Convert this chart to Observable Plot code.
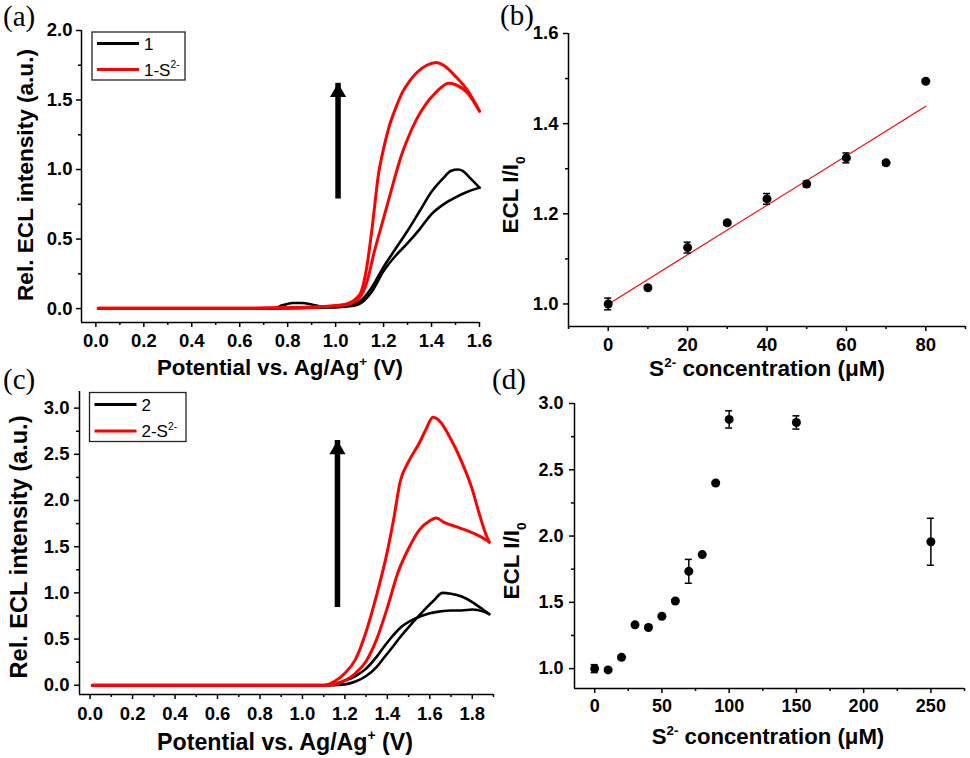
<!DOCTYPE html>
<html><head><meta charset="utf-8">
<script src="https://cdn.jsdelivr.net/npm/d3@7"></script>
<script src="https://cdn.jsdelivr.net/npm/@observablehq/plot@0.6"></script>
<style>
body{margin:0;background:#fff;}
#root{position:relative;width:970px;height:758px;overflow:hidden;background:#fff;}
.panel{position:absolute;}
.panel svg{max-width:none !important;display:block;}
#overlay{position:absolute;left:0;top:0;pointer-events:none;}
</style></head><body><div id="root"></div>
<script>
// ---------- Panel (a): ECL vs potential, compound 1 ----------
const aBlackPeak = [[0.01,0],[0.74,0],[0.78,0.025],[0.82,0.04],[0.86,0.04],[0.9,0.03],[0.95,0.012],[1.0,0.01],[1.05,0.02],[1.1,0.05],[1.15,0.15],[1.2,0.3],[1.25,0.43],[1.3,0.56],[1.35,0.7],[1.4,0.84],[1.45,0.94],[1.48,0.99],[1.51,1.0],[1.53,0.99],[1.56,0.94],[1.6,0.87]];
const aBlackLow = [[0.01,0],[0.7,0],[1.0,0.01],[1.05,0.015],[1.1,0.035],[1.15,0.12],[1.2,0.27],[1.25,0.38],[1.3,0.47],[1.35,0.57],[1.4,0.68],[1.45,0.75],[1.5,0.8],[1.55,0.84],[1.6,0.87]];
const aRedHigh = [[0.01,0.003],[0.6,0.003],[0.9,0.01],[1.0,0.02],[1.05,0.035],[1.1,0.1],[1.13,0.3],[1.15,0.55],[1.18,0.98],[1.2,1.15],[1.22,1.29],[1.25,1.44],[1.28,1.56],[1.31,1.64],[1.34,1.7],[1.38,1.75],[1.42,1.77],[1.45,1.75],[1.5,1.67],[1.55,1.57],[1.6,1.42]];
const aRedLow = [[0.01,0.003],[0.6,0.003],[0.9,0.01],[1.0,0.02],[1.05,0.03],[1.1,0.08],[1.13,0.19],[1.16,0.4],[1.2,0.65],[1.24,0.9],[1.27,1.08],[1.3,1.22],[1.34,1.37],[1.38,1.48],[1.41,1.54],[1.44,1.59],[1.47,1.62],[1.5,1.61],[1.55,1.55],[1.6,1.42]];
const aArrow = [{x: 1.01, y1: 0.86, y2: 1.62}];
const aXTicks = [0,0.2,0.4,0.6,0.8,1.0,1.2,1.4,1.6];
const aXMinor = [0.1,0.3,0.5,0.7,0.9,1.1,1.3,1.5];
const aYTicks = [0,0.5,1.0,1.5,2.0];
const aYMinor = [0.25,0.75,1.25,1.75];

// ---------- Panel (b): I/I0 vs S2- concentration, compound 1 ----------
const bConc = [0,10,20,30,40,50,60,70,80];
const bRatio = [1.0,1.036,1.125,1.18,1.233,1.266,1.324,1.313,1.494];
const bErr = [0.013,0.004,0.012,0.005,0.012,0.006,0.011,0.005,0.004];
const bXTicks = [0,20,40,60,80];
const bXMinor = [-10,10,30,50,70,90];
const bYTicks = [1.0,1.2,1.4,1.6];
const bYMinor = [1.1,1.3,1.5];

// ---------- Panel (c): ECL vs potential, compound 2 ----------
const cBlackPeak = [[0.01,0],[1.1,0],[1.2,0.01],[1.25,0.04],[1.3,0.1],[1.35,0.2],[1.385,0.3],[1.42,0.4],[1.46,0.52],[1.52,0.68],[1.58,0.83],[1.62,0.92],[1.66,1.0],[1.7,0.99],[1.75,0.96],[1.8,0.9],[1.85,0.82],[1.88,0.77]];
const cBlackFlat = [[0.01,0],[1.12,0],[1.2,0.05],[1.25,0.1],[1.3,0.18],[1.35,0.31],[1.385,0.42],[1.42,0.52],[1.46,0.62],[1.52,0.71],[1.56,0.75],[1.6,0.78],[1.65,0.8],[1.7,0.81],[1.75,0.81],[1.8,0.82],[1.85,0.8],[1.88,0.77]];
const cRedHigh = [[0.01,0],[1.1,0],[1.15,0.04],[1.2,0.13],[1.25,0.28],[1.3,0.58],[1.35,0.98],[1.4,1.45],[1.43,1.8],[1.46,2.2],[1.5,2.42],[1.55,2.62],[1.58,2.76],[1.615,2.9],[1.65,2.85],[1.7,2.66],[1.75,2.42],[1.8,2.12],[1.83,1.88],[1.86,1.66],[1.88,1.55]];
const cRedLow = [[0.01,0],[1.12,0],[1.17,0.02],[1.2,0.05],[1.25,0.13],[1.3,0.26],[1.35,0.5],[1.4,0.84],[1.45,1.22],[1.5,1.48],[1.55,1.68],[1.6,1.78],[1.63,1.81],[1.67,1.76],[1.72,1.72],[1.77,1.68],[1.82,1.63],[1.86,1.58],[1.88,1.55]];
const cArrow = [{x: 1.165, y1: 0.95, y2: 2.65}];
const cXTicks = [0,0.2,0.4,0.6,0.8,1.0,1.2,1.4,1.6,1.8];
const cXMinor = [0.1,0.3,0.5,0.7,0.9,1.1,1.3,1.5,1.7,1.9];
const cYTicks = [0,0.5,1.0,1.5,2.0,2.5,3.0];
const cYMinor = [0.25,0.75,1.25,1.75,2.25,2.75];

// ---------- Panel (d): I/I0 vs S2- concentration, compound 2 ----------
const dConc = [0,10,20,30,40,50,60,70,80,90,100,150,250];
const dRatio = [1.0,0.99,1.085,1.33,1.31,1.395,1.51,1.734,1.86,2.40,2.88,2.857,1.957];
const dErr = [0.03,0.01,0.01,0.01,0.01,0.01,0.01,0.09,0.01,0.01,0.065,0.05,0.177];
const dXTicks = [0,50,100,150,200,250];
const dXMinor = [25,75,125,175,225,275];
const dYTicks = [1.0,1.5,2.0,2.5,3.0];
const dYMinor = [1.25,1.75,2.25,2.75];

const FONT = "'Liberation Sans', Arial, sans-serif";
const root = document.getElementById("root");

function frame(o) {
  return [
    Plot.ruleY([o.yDomain[0]], {stroke: "black", strokeWidth: 1.5}),
    Plot.ruleX([o.xDomain[0]], {stroke: "black", strokeWidth: 1.5}),
    Plot.axisX({ticks: o.xTicks, tickSize: 5, tickPadding: o.xPad, tickFormat: o.xFmt, label: null, strokeWidth: 1.5}),
    Plot.axisX({ticks: o.xMinor, tickSize: 3, tickFormat: () => "", label: null, strokeWidth: 1.5}),
    Plot.axisY({ticks: o.yTicks, tickSize: 5, tickPadding: o.yPad, tickFormat: o.yFmt, label: null, strokeWidth: 1.5}),
    Plot.axisY({ticks: o.yMinor, tickSize: 3, tickFormat: () => "", label: null, strokeWidth: 1.5})
  ];
}

function panel(o, marks) {
  const chart = Plot.plot({
    width: o.width, height: o.height,
    marginTop: o.m[0], marginRight: o.m[1], marginBottom: o.m[2], marginLeft: o.m[3],
    x: {domain: o.xDomain, label: null},
    y: {domain: o.yDomain, label: null},
    style: {background: "transparent", fontFamily: FONT, fontSize: (o.tickFont || 18) + "px", fontWeight: "bold", color: "black", overflow: "visible"},
    marks: [...frame(o), ...marks]
  });
  const div = document.createElement("div");
  div.className = "panel";
  div.style.left = o.left + "px";
  div.style.top = o.top + "px";
  div.appendChild(chart);
  root.appendChild(div);
}

const pt = d => ({x: d[0], y: d[1]});
function curves(black, red) {
  const m = [];
  for (const s of black) m.push(Plot.line(s.map(pt), {x: "x", y: "y", stroke: "black", strokeWidth: 2.6, curve: "monotone-x"}));
  for (const s of red) m.push(Plot.line(s.map(pt), {x: "x", y: "y", stroke: "#ff0000", strokeWidth: 3, curve: "monotone-x"}));
  return m;
}
function arrow(data) {
  return [
    Plot.ruleX(data, {x: "x", y1: "y1", y2: "y2", stroke: "black", strokeWidth: 5.5, insetTop: 10}),
    Plot.dot(data, {x: "x", y: "y2", symbol: "triangle", r: 6, fill: "black", dy: 9})
  ];
}
function points(conc, ratio, err, withFit) {
  const rows = conc.map((c, i) => ({x: c, y: ratio[i], e: err[i]}));
  const m = [];
  if (withFit) m.push(Plot.linearRegressionY(rows, {x: "x", y: "y", stroke: "#ff0000", strokeWidth: 1.2, ci: 0}));
  m.push(
    Plot.ruleX(rows, {x: "x", y1: d => d.y - d.e, y2: d => d.y + d.e, stroke: "black", strokeWidth: 1.5}),
    Plot.ruleY(rows, {x1: "x", x2: "x", y: d => d.y + d.e, insetLeft: -3.5, insetRight: -3.5, stroke: "black", strokeWidth: 1.5}),
    Plot.ruleY(rows, {x1: "x", x2: "x", y: d => d.y - d.e, insetLeft: -3.5, insetRight: -3.5, stroke: "black", strokeWidth: 1.5}),
    Plot.dot(rows, {x: "x", y: "y", r: 4.5, fill: "black"})
  );
  return m;
}

// (a)
panel({left: 0, top: 0, width: 485, height: 379, m: [30, 6, 57, 81],
  xDomain: [-0.06, 1.6], yDomain: [-0.1, 2.0],
  xTicks: aXTicks, xMinor: aXMinor, yTicks: aYTicks, yMinor: aYMinor,
  xFmt: ".1f", yFmt: ".1f", xPad: 6, yPad: 4, tickFont: 18.5},
  [...curves([aBlackPeak, aBlackLow], [aRedHigh, aRedLow]), ...arrow(aArrow)]);

// (b)
panel({left: 485, top: 0, width: 485, height: 379, m: [33, 5, 53, 83],
  xDomain: [-10, 90], yDomain: [0.95, 1.6],
  xTicks: bXTicks, xMinor: bXMinor, yTicks: bYTicks, yMinor: bYMinor,
  xFmt: "d", yFmt: ".1f", xPad: 6, yPad: 5, tickFont: 18.5},
  points(bConc, bRatio, bErr, true));

// (c)
panel({left: 0, top: 379, width: 500, height: 379, m: [12, 7, 64, 79],
  xDomain: [-0.05, 1.9], yDomain: [-0.1, 3.18],
  xTicks: cXTicks, xMinor: cXMinor, yTicks: cYTicks, yMinor: cYMinor,
  xFmt: ".1f", yFmt: ".1f", xPad: 7, yPad: 5, tickFont: 18.5},
  [...curves([cBlackPeak, cBlackFlat], [cRedHigh, cRedLow]), ...arrow(cArrow)]);

// (d)
panel({left: 485, top: 379, width: 485, height: 379, m: [24, 6, 70, 89],
  xDomain: [-15, 275], yDomain: [0.85, 3.0],
  xTicks: dXTicks, xMinor: dXMinor, yTicks: dYTicks, yMinor: dYMinor,
  xFmt: "d", yFmt: ".1f", xPad: 6, yPad: 6, tickFont: 18},
  points(dConc, dRatio, dErr, false));

// ---------- overlay text: titles, panel letters, legends ----------
const svg = d3.select(root).append("svg").attr("id", "overlay").attr("width", 970).attr("height", 758);

function rich(x, y, parts, o = {}) {
  const size = o.size || 22;
  const t = svg.append("text")
    .attr("transform", `translate(${x},${y}) rotate(${o.rotate || 0})`)
    .attr("text-anchor", o.anchor || "middle")
    .attr("font-family", o.family || FONT)
    .attr("font-weight", o.weight || "bold")
    .attr("font-size", size)
    .attr("fill", "black")
    .style("white-space", "pre");
  let shift = 0;
  for (const p of parts) {
    const s = typeof p === "string" ? {t: p} : p;
    let target = 0;
    if (s.sup) target = -0.42 * size;
    if (s.sub) target = 0.3 * size;
    const ts = t.append("tspan").text(s.t).attr("dy", target - shift);
    if (s.sup || s.sub) ts.attr("font-size", size * 0.6);
    shift = target;
  }
  return t;
}

// axis titles
rich(280, 375, ["Potential vs. Ag/Ag", {t: "+", sup: true}, " (V)"], {size: 22.3});
rich(33, 175, ["Rel. ECL intensity (a.u.)"], {rotate: -90, size: 22.6});
rich(767, 376, ["S", {t: "2-", sup: true}, " concentration (\u03bcM)"], {size: 22.5});
rich(518, 195, ["ECL I/I", {t: "0", sub: true}], {rotate: -90, size: 22.5});
rich(285, 750, ["Potential vs. Ag/Ag", {t: "+", sup: true}, " (V)"], {size: 23.2});
rich(27, 547, ["Rel. ECL intensity (a.u.)"], {rotate: -90, size: 23.6});
rich(768, 744, ["S", {t: "2-", sup: true}, " concentration (\u03bcM)"], {size: 22.2});
rich(519, 561, ["ECL I/I", {t: "0", sub: true}], {rotate: -90, size: 22.5});

// panel letters
const serif = "'Liberation Serif', 'Times New Roman', serif";
rich(3, 26, ["(a)"], {anchor: "start", family: serif, weight: "normal", size: 29});
rich(500, 25, ["(b)"], {anchor: "start", family: serif, weight: "normal", size: 29});
rich(3, 389, ["(c)"], {anchor: "start", family: serif, weight: "normal", size: 29});
rich(492, 389, ["(d)"], {anchor: "start", family: serif, weight: "normal", size: 29});

// legends
const legendA = [{label: ["1"], color: "black"}, {label: ["1-S", {t: "2-", sup: true}], color: "#ff0000"}];
const legendC = [{label: ["2"], color: "black"}, {label: ["2-S", {t: "2-", sup: true}], color: "#ff0000"}];
function legend(x, y, w, h, items, rowY) {
  svg.append("rect").attr("x", x).attr("y", y).attr("width", w).attr("height", h)
    .attr("fill", "white").attr("stroke", "#222").attr("stroke-width", 1.3);
  items.forEach((it, i) => {
    svg.append("line").attr("x1", x + 5).attr("x2", x + 47).attr("y1", rowY[i]).attr("y2", rowY[i])
      .attr("stroke", it.color).attr("stroke-width", 3);
    rich(x + 52, rowY[i] + 6, it.label, {anchor: "start", weight: "normal", size: 17});
  });
}
legend(92, 32, 93, 48, legendA, [43.5, 69.5]);
legend(89.5, 392.5, 96.5, 49, legendC, [404.5, 431]);
</script></body></html>
